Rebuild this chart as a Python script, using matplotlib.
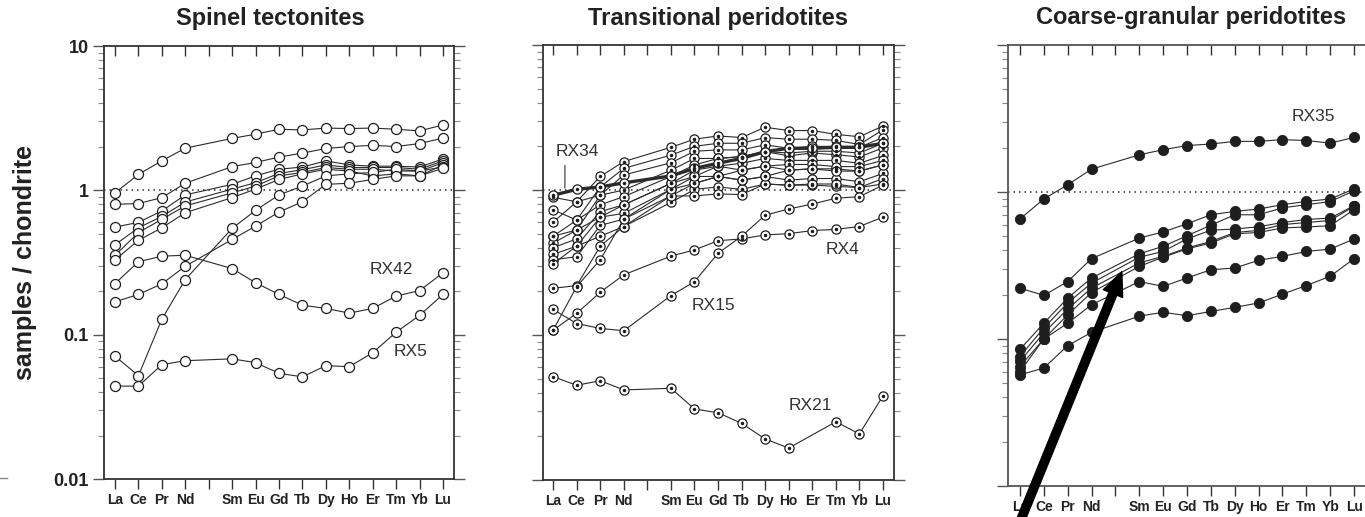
import numpy as np
import matplotlib
matplotlib.use('Agg')
import matplotlib.pyplot as plt
from matplotlib.lines import Line2D
from matplotlib.ticker import LogLocator, NullFormatter

plt.rcParams['font.family'] = ['Liberation Sans', 'DejaVu Sans']

# ---------------- data ----------------
tick_labels = ['La', 'Ce', 'Pr', 'Nd', '', 'Sm', 'Eu', 'Gd', 'Tb', 'Dy', 'Ho', 'Er', 'Tm', 'Yb', 'Lu']
y_ticks = [0.01, 0.1, 1, 10]
y_tick_labels = ['0.01', '0.1', '1', '10']
titles = ['Spinel tectonites', 'Transitional peridotites', 'Coarse-granular peridotites']

# Spinel tectonites (open circles)
sp_1 = [0.96, 1.29, 1.60, 1.96, 2.29, 2.45, 2.65, 2.62, 2.70, 2.68, 2.70, 2.65, 2.58, 2.84]
sp_2 = [0.80, 0.81, 0.89, 1.12, 1.46, 1.56, 1.70, 1.81, 1.95, 2.01, 2.05, 2.01, 2.11, 2.30]
sp_3 = [0.556, 0.60, 0.72, 0.93, 1.10, 1.26, 1.40, 1.45, 1.60, 1.50, 1.47, 1.47, 1.45, 1.65]
sp_4 = [0.42, 0.55, 0.66, 0.83, 1.02, 1.13, 1.31, 1.39, 1.50, 1.44, 1.44, 1.44, 1.40, 1.60]
sp_5 = [0.354, 0.51, 0.63, 0.78, 0.96, 1.07, 1.26, 1.33, 1.44, 1.40, 1.40, 1.36, 1.36, 1.55]
sp_6 = [0.33, 0.45, 0.55, 0.70, 0.89, 1.02, 1.19, 1.30, 1.40, 1.36, 1.26, 1.30, 1.26, 1.50]
sp_7 = [0.071, 0.052, 0.128, 0.241, 0.545, 0.726, 0.93, 1.07, 1.26, 1.30, 1.33, 1.40, 1.36, 1.45]
sp_8 = [0.169, 0.19, 0.225, 0.298, 0.457, 0.565, 0.707, 0.834, 1.10, 1.12, 1.19, 1.26, 1.26, 1.42]
sp_RX42 = [0.226, 0.32, 0.35, 0.355, 0.287, 0.229, 0.19, 0.16, 0.152, 0.141, 0.152, 0.185, 0.202, 0.268]
sp_RX5 = [0.044, 0.044, 0.062, 0.066, 0.068, 0.064, 0.054, 0.051, 0.061, 0.060, 0.075, 0.104, 0.136, 0.19]
spinel_series = [sp_1, sp_2, sp_3, sp_4, sp_5, sp_6, sp_7, sp_8, sp_RX42, sp_RX5]

# Transitional peridotites (dotted circles)
tr_1 = [0.60, 0.83, 1.24, 1.57, 1.97, 2.24, 2.36, 2.30, 2.71, 2.57, 2.57, 2.42, 2.33, 2.76]
tr_2 = [0.48, 0.62, 1.05, 1.41, 1.74, 2.00, 2.10, 2.10, 2.30, 2.24, 2.24, 2.20, 2.06, 2.60]
tr_3 = [0.43, 0.53, 0.92, 1.27, 1.54, 1.85, 1.89, 1.89, 2.05, 1.94, 2.00, 2.00, 1.97, 2.30]
tr_4 = [0.89, 0.83, 0.92, 1.00, 1.37, 1.65, 1.65, 1.70, 1.84, 1.72, 1.80, 1.75, 1.69, 1.95]
tr_5 = [0.73, 0.62, 0.79, 0.90, 1.24, 1.49, 1.65, 1.70, 1.84, 1.80, 1.85, 1.85, 1.80, 2.10]
tr_6 = [0.40, 0.46, 0.71, 0.79, 1.11, 1.37, 1.46, 1.53, 1.65, 1.60, 1.60, 1.60, 1.53, 1.73]
tr_7 = [0.36, 0.41, 0.65, 0.69, 1.01, 1.24, 1.46, 1.37, 1.46, 1.37, 1.40, 1.40, 1.35, 1.49]
tr_8 = [0.33, 0.347, 0.57, 0.63, 0.91, 1.11, 1.24, 1.17, 1.24, 1.17, 1.20, 1.20, 1.14, 1.30]
tr_9 = [0.31, 0.41, 0.48, 0.56, 0.82, 1.01, 1.05, 1.01, 1.10, 1.08, 1.08, 1.06, 1.04, 1.10]
tr_10 = [0.21, 0.219, 0.41, 0.56, 0.91, 0.91, 0.94, 0.93, 1.10, 1.08, 1.10, 1.10, 1.04, 1.20]
tr_11 = [0.108, 0.216, 0.33, 0.63, 1.01, 1.11, 1.24, 1.37, 1.46, 1.50, 1.50, 1.45, 1.45, 1.60]
tr_12 = [0.48, 0.53, 0.65, 0.79, 1.11, 1.24, 1.24, 1.17, 1.24, 1.37, 1.40, 1.35, 1.35, 1.49]
tr_RX4 = [0.108, 0.141, 0.197, 0.26, 0.35, 0.386, 0.447, 0.46, 0.49, 0.50, 0.525, 0.535, 0.56, 0.65]
tr_RX15 = [0.15, 0.12, 0.111, 0.107, 0.187, 0.233, 0.366, 0.48, 0.67, 0.74, 0.80, 0.877, 0.90, 1.08]
tr_RX21 = [0.0516, 0.045, 0.0484, 0.0418, 0.0429, 0.0309, 0.0291, 0.0246, 0.0192, 0.0166, np.nan, 0.0252, 0.0208, 0.038]
tr_RX34 = [0.92, 1.01, 1.05, 1.12, 1.25, 1.41, 1.53, 1.65, 1.84, 1.94, 1.94, 1.97, 1.97, 2.10]
transitional_series = [tr_1, tr_2, tr_3, tr_4, tr_5, tr_6, tr_7, tr_8, tr_9, tr_10, tr_11, tr_12,
                       tr_RX4, tr_RX15, tr_RX21]

# Coarse-granular peridotites (filled circles)
cg_RX35 = [0.655, 0.896, 1.12, 1.43, 1.79, 1.94, 2.07, 2.12, 2.21, 2.21, 2.27, 2.24, 2.15, 2.35]
cg_1 = [0.222, 0.198, 0.246, 0.352, 0.486, 0.535, 0.608, 0.70, 0.738, 0.766, 0.82, 0.863, 0.896, 1.05]
cg_2 = [0.085, 0.128, 0.19, 0.26, 0.38, 0.427, 0.504, 0.595, 0.70, 0.70, 0.78, 0.82, 0.86, 1.02]
cg_3 = [0.076, 0.119, 0.176, 0.24, 0.36, 0.394, 0.48, 0.55, 0.56, 0.58, 0.62, 0.65, 0.665, 0.807]
cg_4 = [0.0705, 0.11, 0.16, 0.222, 0.329, 0.365, 0.416, 0.461, 0.53, 0.548, 0.60, 0.62, 0.64, 0.80]
cg_5 = [0.065, 0.10, 0.146, 0.207, 0.312, 0.36, 0.41, 0.45, 0.52, 0.53, 0.57, 0.578, 0.59, 0.758]
cg_6 = [0.060, 0.10, 0.128, 0.171, 0.246, 0.228, 0.26, 0.296, 0.304, 0.343, 0.365, 0.394, 0.409, 0.479]
cg_7 = [0.057, 0.0635, 0.09, 0.111, 0.143, 0.152, 0.144, 0.154, 0.164, 0.176, 0.202, 0.231, 0.267, 0.352]
coarse_series = [cg_RX35, cg_1, cg_2, cg_3, cg_4, cg_5, cg_6, cg_7]

# sample-name labels: (text, x position in element units, y value)
spinel_labels = [('RX42', 12.8, 0.283), ('RX5', 13.6, 0.076)]
transitional_labels = [('RX34', 2.02, 1.83), ('RX4', 13.3, 0.386), ('RX15', 7.8, 0.161), ('RX21', 11.9, 0.0329)]
coarse_labels = [('RX35', 13.3, 3.25)]

# ---------------- helpers ----------------
x_pos = np.array([i + 1 for i, t in enumerate(tick_labels) if t != ''], dtype=float)
LINE_C = '#2b2b2b'

W, H = 1365, 517
fig = plt.figure(figsize=(W / 100, H / 100), dpi=100)


def make_axes(l, r, t, b):
    return fig.add_axes([l / W, 1 - b / H, (r - l) / W, (b - t) / H])


def style(ax, xlim, show_ylab, spine_c):
    ax.set_yscale('log')
    ax.set_ylim(0.01, 10)
    ax.set_xlim(*xlim)
    ax.set_xticks(range(1, len(tick_labels) + 1))
    ax.set_xticklabels(tick_labels, fontsize=10, fontweight='bold', color='#222')
    ax.tick_params(axis='x', which='both', direction='out', length=7, width=1.0,
                   color='#333', pad=3, top=False, bottom=True)
    ax.set_yticks(y_ticks)
    if show_ylab:
        ax.set_yticklabels(y_tick_labels, fontsize=13, fontweight='bold', color='#222')
    else:
        ax.set_yticklabels([])
    ax.yaxis.set_minor_locator(LogLocator(base=10, subs=np.arange(2, 10)))
    ax.yaxis.set_minor_formatter(NullFormatter())
    ax.tick_params(axis='y', which='major', direction='out', length=8, width=1.0,
                   color='#555', left=True, right=True, pad=3)
    ax.tick_params(axis='y', which='minor', direction='out', length=4.5, width=0.8,
                   color='#888', left=True, right=True)
    sec = ax.secondary_xaxis('top')
    sec.set_xticks(range(1, len(tick_labels) + 1))
    sec.set_xticklabels([])
    sec.tick_params(axis='x', direction='in', length=7, width=1.0, color='#333')
    sec.spines['top'].set_visible(False)
    for s in ax.spines.values():
        s.set_color(spine_c)
        s.set_linewidth(1.3)
    ax.axhline(1, color='#333', lw=1.1, ls=(0, (1, 2.6)), zorder=1)
    ax.set_facecolor('white')


def draw(ax, y, kind, lw=0.8):
    y = np.asarray(y, dtype=float)
    m = ~np.isnan(y)
    xs, ys = x_pos[m], y[m]
    if kind == 'open':
        ax.plot(xs, ys, '-', color=LINE_C, lw=lw, marker='o', ms=7.2,
                mfc='white', mec='#1e1e1e', mew=0.9, zorder=3)
    elif kind == 'dot':
        ax.plot(xs, ys, '-', color=LINE_C, lw=lw, marker='o', ms=6.6,
                mfc='white', mec='#1e1e1e', mew=0.9, zorder=3)
        ax.plot(xs, ys, ls='none', marker='o', ms=1.5, color='#1e1e1e', zorder=4)
    else:
        ax.plot(xs, ys, '-', color=LINE_C, lw=lw, marker='o', ms=7.4,
                mfc='#1e1e1e', mec='#1e1e1e', mew=0.6, zorder=3)


# ---------------- panels ----------------
ax1 = make_axes(104, 454, 46, 479)
style(ax1, (0.53, 15.47), True, '#333')
for s in spinel_series:
    draw(ax1, s, 'open')
for txt, xx, yy in spinel_labels:
    ax1.text(xx, yy, txt, fontsize=12.5, color='#333', ha='center', va='center')

ax2 = make_axes(543, 894, 45, 480)
style(ax2, (0.57, 15.47), False, '#333')
for s in transitional_series:
    draw(ax2, s, 'dot')
draw(ax2, tr_RX34, 'dot', lw=2.4)
for txt, xx, yy in transitional_labels:
    ax2.text(xx, yy, txt, fontsize=12.5, color='#333', ha='center', va='center')
ax2.annotate('', xy=(1.5, 1.03), xytext=(1.5, 1.48),
             arrowprops=dict(arrowstyle='-', color='#333', lw=0.8, shrinkA=0, shrinkB=0))

ax3 = make_axes(1008, 1366, 45, 486)
style(ax3, (0.5, 15.5), False, '#555')
for s in coarse_series:
    draw(ax3, s, 'fill')
for txt, xx, yy in coarse_labels:
    ax3.text(xx, yy, txt, fontsize=12.5, color='#333', ha='center', va='center')
ax3.annotate('', xy=(5.27, 0.287), xytext=(1.04, 0.0059),
             arrowprops=dict(arrowstyle='simple,head_length=0.85,head_width=0.75,tail_width=0.3',
                             color='black', mutation_scale=20, shrinkA=0, shrinkB=0),
             annotation_clip=False, zorder=10)

# titles
for ax, title, cx, (t, b) in zip([ax1, ax2, ax3], titles, [270, 718, 1191],
                                 [(46, 479), (45, 480), (45, 486)]):
    l, r = ax.get_position().x0 * W, ax.get_position().x1 * W
    ax.text((cx - l) / (r - l), (b - 18) / (b - t), title, transform=ax.transAxes,
            fontsize=17, fontweight='bold', color='#222', ha='center', va='center')

fig.text(25 / W, 1 - 262 / H, 'samples / chondrite', rotation=90, fontsize=18,
         fontweight='bold', color='#222', ha='center', va='center')
fig.add_artist(Line2D([0, 7 / W], [1 - 478 / H] * 2, color='#888', lw=1.0))

fig.savefig('out.png', dpi=100, facecolor='white')
